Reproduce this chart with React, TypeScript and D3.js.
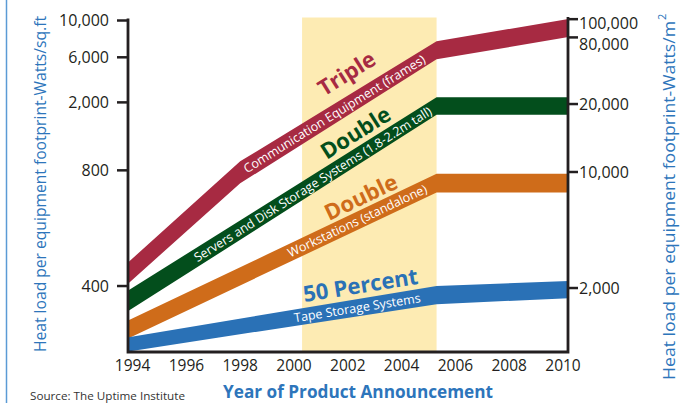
import * as d3 from 'd3';

const WIDTH = 681;
const HEIGHT = 403;
const PLOT = { left: 128, right: 568, top: 20.5, bottom: 352 };
const FONT = "'Open Sans', sans-serif";
const BLUE = '#2d75bb';
const INK = '#231f20';

const YEARS = [1994, 1996, 1998, 2000, 2002, 2004, 2006, 2008, 2010];
// left axis (W/sq.ft) is not a true log axis: each tick gets its own place
const LEFT_DOMAIN = [270, 400, 800, 2000, 6000, 10000];
const LEFT_FRAC = [0, 0.199, 0.548, 0.753, 0.889, 1];
const RIGHT_TICKS = [2000, 10000, 20000, 80000, 100000];
const RIGHT_FRAC = [0.193, 0.543, 0.748, 0.949, 1.004];
const RIGHT_NUDGE = [0, 0, 0, 7, 4.5]; // top two labels sit below their ticks
const HIGHLIGHT = [2000.3, 2005.3];

// band edges in W/sq.ft
const commYears = [1993.85, 1998, 2005.3, 2010.2];
const commTop = [462, 903, 7507, 10200];
const commBottom = [407, 740, 5714, 7940];

const serverYears = [1993.85, 2005.3, 2010.2];
const serverTop = [390, 2263, 2263];
const serverBottom = [345, 1690, 1690];

const workYears = [1993.85, 2005.3, 2010.2];
const workTop = [326, 784, 784];
const workBottom = [293, 701, 701];

const tapeYears = [1993.85, 2005.3, 2010.2];
const tapeTop = [295, 400, 412];
const tapeBottom = [271, 359, 372];

const BANDS = [
    { key: 'comm', years: commYears, top: commTop, bottom: commBottom, color: '#a72a42', name: 'Communication Equipment (frames)', growth: 'Triple', at: 2001.5, growthAt: 2002.5, off: 29 },
    { key: 'server', years: serverYears, top: serverTop, bottom: serverBottom, color: '#034e1c', name: 'Servers and Disk Storage Systems (1.8-2.2m tall)', growth: 'Double', at: 2000.7, growthAt: 2002.7, off: 22 },
    { key: 'work', years: workYears, top: workTop, bottom: workBottom, color: '#cf6c1a', name: 'Workstations (standalone)', growth: 'Double', at: 2002.35, growthAt: 2002.8, off: 21 },
    { key: 'tape', years: tapeYears, top: tapeTop, bottom: tapeBottom, color: '#2a71b6', name: 'Tape Storage Systems', growth: '50 Percent', at: 2002.35, growthAt: 2002.6, off: 23 },
];

// point on a polyline at x, pushed along its normal by offset
function placeOn(pts: [number, number][], x: number, offset: number) {
    let i = d3.bisector((p: [number, number]) => p[0]).right(pts, x) - 1;
    i = Math.max(0, Math.min(pts.length - 2, i));
    const [x0, y0] = pts[i];
    const [x1, y1] = pts[i + 1];
    const t = (x - x0) / (x1 - x0);
    const y = y0 + t * (y1 - y0);
    const a = Math.atan2(y1 - y0, x1 - x0);
    return { x: x + Math.sin(a) * offset, y: y - Math.cos(a) * offset, deg: (a * 180) / Math.PI };
}

export default function App() {
    const plotH = PLOT.bottom - PLOT.top;
    const xScale = d3.scaleLinear().domain([1994, 2010]).range([132.6, 563]);
    const yLeft = d3
        .scaleLog()
        .domain(LEFT_DOMAIN)
        .range(LEFT_FRAC.map((f) => PLOT.bottom - f * plotH));
    const yRight = d3
        .scaleLog()
        .domain(RIGHT_TICKS)
        .range(RIGHT_FRAC.map((f) => PLOT.bottom - f * plotH));
    const fmt = d3.format(',');

    const shapes = BANDS.map((b) => {
        const idx = d3.range(b.years.length);
        const area = d3
            .area<number>()
            .x((i) => xScale(b.years[i]))
            .y0((i) => yLeft(b.bottom[i]))
            .y1((i) => yLeft(b.top[i]));
        const center: [number, number][] = idx.map((i) => [
            xScale(b.years[i]),
            (yLeft(b.top[i]) + yLeft(b.bottom[i])) / 2,
        ]);
        const lab = placeOn(center, xScale(b.at), 0);
        const big = placeOn(center, xScale(b.growthAt), b.off);
        return (
            <g key={b.key}>
                <path d={area(idx) || ''} fill={b.color} />
                <text
                    transform={`translate(${lab.x},${lab.y}) rotate(${lab.deg})`}
                    textAnchor="middle"
                    dominantBaseline="central"
                    fontSize={12.5}
                    fill="#fff"
                >
                    {b.name}
                </text>
                <text
                    transform={`translate(${big.x},${big.y}) rotate(${big.deg})`}
                    textAnchor="middle"
                    dominantBaseline="central"
                    fontSize={22}
                    fontWeight="bold"
                    fill={b.color}
                >
                    {b.growth}
                </text>
            </g>
        );
    });

    return (
        <div style={{ position: 'absolute', left: 0, top: 0 }}>
            <svg width={WIDTH} height={HEIGHT} fontFamily={FONT} style={{ display: 'block', background: '#fff' }}>
                <line x1={6.5} x2={6.5} y1={0} y2={HEIGHT} stroke="#5b9bd5" strokeWidth={1.5} />
                <rect
                    x={xScale(HIGHLIGHT[0])}
                    y={PLOT.top - 3}
                    width={xScale(HIGHLIGHT[1]) - xScale(HIGHLIGHT[0])}
                    height={PLOT.bottom - PLOT.top + 3}
                    fill="#fdebb3"
                />
                {shapes}
                {/* frame */}
                <path
                    d={`M${PLOT.left},${PLOT.top - 2}V${PLOT.bottom}H${PLOT.right}V${PLOT.top - 3.5}`}
                    fill="none"
                    stroke={INK}
                    strokeWidth={2.8}
                />
                {LEFT_DOMAIN.slice(1).map((v) => (
                    <g key={v} transform={`translate(0,${yLeft(v)})`}>
                        <line x1={117} x2={PLOT.left} stroke={INK} strokeWidth={2.5} />
                        <text x={109} dy="0.36em" textAnchor="end" fontSize={16} fill={INK}>
                            {fmt(v)}
                        </text>
                    </g>
                ))}
                {RIGHT_TICKS.map((v, i) => (
                    <g key={v} transform={`translate(0,${yRight(v)})`}>
                        <line x1={PLOT.right} x2={578} stroke={INK} strokeWidth={2.5} />
                        <text x={579} y={RIGHT_NUDGE[i]} dy="0.36em" textAnchor="start" fontSize={16} fill={INK}>
                            {fmt(v)}
                        </text>
                    </g>
                ))}
                {YEARS.map((y) => (
                    <text key={y} x={xScale(y)} y={371} textAnchor="middle" fontSize={15.5} fill={INK}>
                        {y}
                    </text>
                ))}
                <text
                    transform={`translate(39,184) rotate(-90)`}
                    textAnchor="middle"
                    dominantBaseline="central"
                    fontSize={17}
                    fill={BLUE}
                    textLength={336}
                    lengthAdjust="spacingAndGlyphs"
                >
                    Heat load per equipment footprint-Watts/sq.ft
                </text>
                <g transform={`translate(668,380) rotate(-90)`}>
                    <text
                        x={0}
                        dominantBaseline="central"
                        fontSize={17}
                        fill={BLUE}
                        textLength={359}
                        lengthAdjust="spacingAndGlyphs"
                    >
                        Heat load per equipment footprint-Watts/m
                    </text>
                    <text x={360} y={-7} dominantBaseline="central" fontSize={11} fill={BLUE}>
                        2
                    </text>
                </g>
                <text
                    x={358}
                    y={398}
                    textAnchor="middle"
                    fontSize={18.5}
                    fontWeight="bold"
                    fill={BLUE}
                    textLength={270}
                    lengthAdjust="spacingAndGlyphs"
                >
                    Year of Product Announcement
                </text>
                <text x={30} y={400} fontSize={11.5} fill="#333" textLength={155} lengthAdjust="spacingAndGlyphs">
                    Source: The Uptime Institute
                </text>
            </svg>
        </div>
    );
}
